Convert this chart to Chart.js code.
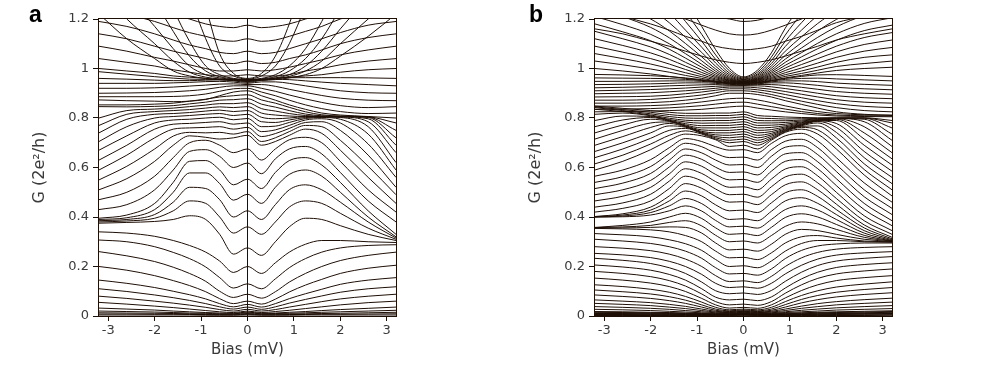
<!DOCTYPE html>
<html>
<head>
<meta charset="utf-8">
<script src="https://cdn.jsdelivr.net/npm/chart.js@4/dist/chart.umd.min.js"></script>
<style>
  html, body { margin: 0; padding: 0; background: #ffffff; }
  body { width: 992px; height: 372px; position: relative; overflow: hidden; }
  .panel { position: absolute; top: 0; width: 496px; height: 372px; }
</style>
</head>
<body>
<div class="panel" style="left:0px"><canvas id="chartA" width="496" height="372"></canvas></div>
<div class="panel" style="left:496px"><canvas id="chartB" width="496" height="372"></canvas></div>
<script>
// ---------- tick values / labels ----------
const X_TICKS = [-3, -2, -1, 0, 1, 2, 3];
const X_TICK_LABELS = ['-3', '-2', '-1', '0', '1', '2', '3'];
const Y_TICKS = [0, 0.2, 0.4, 0.6, 0.8, 1, 1.2];
const Y_TICK_LABELS = ['0', '0.2', '0.4', '0.6', '0.8', '1', '1.2'];
const PANEL_LABELS = ['a', 'b'];
const X_TITLE = 'Bias (mV)';
const Y_TITLE = 'G (2e\u00B2/h)';

// ---------- bias sample positions (mV) ----------
const BIAS_A = [-3.2,-2.6,-2.0,-1.6,-1.25,-0.9,-0.6,-0.3,0,0.3,0.6,0.9,1.25,1.6,2.0,2.6,3.2];
const BIAS_B = [-3.2,-2.6,-2.0,-1.6,-1.25,-0.9,-0.6,-0.3,0,0.3,0.6,0.9,1.25,1.6,2.0,2.6,3.2];

// ---------- panel a : conductance traces (2e^2/h) ----------
const A_LOW = [
  [0.004,0.004,0.004,0.004,0.004,0.003,0.003,0.003,0.004,0.003,0.003,0.003,0.004,0.004,0.004,0.004,0.004],
  [0.008,0.008,0.007,0.007,0.006,0.006,0.005,0.005,0.007,0.005,0.005,0.006,0.006,0.007,0.007,0.008,0.009],
  [0.013,0.012,0.011,0.010,0.009,0.008,0.007,0.007,0.010,0.007,0.007,0.008,0.009,0.010,0.011,0.013,0.015],
  [0.020,0.018,0.016,0.014,0.012,0.011,0.009,0.009,0.013,0.009,0.010,0.011,0.013,0.015,0.017,0.020,0.023],
  [0.032,0.028,0.024,0.020,0.017,0.014,0.012,0.011,0.016,0.011,0.012,0.015,0.018,0.022,0.026,0.031,0.036],
  [0.055,0.048,0.040,0.034,0.028,0.022,0.017,0.014,0.020,0.014,0.018,0.023,0.030,0.037,0.045,0.054,0.060],
  [0.080,0.071,0.060,0.052,0.044,0.035,0.026,0.020,0.027,0.020,0.026,0.036,0.047,0.058,0.069,0.080,0.088],
  [0.110,0.099,0.085,0.074,0.063,0.050,0.037,0.028,0.036,0.027,0.037,0.052,0.067,0.081,0.096,0.110,0.118],
  [0.145,0.132,0.115,0.100,0.086,0.069,0.050,0.037,0.047,0.036,0.050,0.070,0.090,0.108,0.128,0.145,0.155],
  [0.200,0.185,0.163,0.143,0.123,0.098,0.070,0.050,0.060,0.048,0.068,0.097,0.125,0.148,0.172,0.193,0.205],
  [0.260,0.243,0.220,0.197,0.172,0.140,0.100,0.075,0.088,0.072,0.098,0.137,0.172,0.200,0.224,0.245,0.258],
  [0.307,0.300,0.280,0.257,0.232,0.198,0.155,0.113,0.130,0.110,0.150,0.195,0.232,0.258,0.275,0.285,0.288],
  [0.340,0.335,0.322,0.305,0.285,0.258,0.222,0.176,0.200,0.172,0.215,0.258,0.290,0.305,0.305,0.300,0.297]
];
const A_MID = [
  [0.375,0.378,0.382,0.390,0.405,0.390,0.330,0.250,0.275,0.245,0.300,0.360,0.395,0.390,0.365,0.330,0.305],
  [0.380,0.384,0.395,0.425,0.465,0.455,0.400,0.335,0.360,0.330,0.380,0.440,0.465,0.455,0.415,0.355,0.310],
  [0.385,0.390,0.410,0.460,0.520,0.515,0.470,0.400,0.425,0.390,0.450,0.510,0.530,0.510,0.460,0.380,0.315],
  [0.390,0.397,0.430,0.500,0.578,0.578,0.535,0.468,0.492,0.455,0.520,0.572,0.590,0.565,0.500,0.400,0.320],
  [0.395,0.408,0.455,0.540,0.625,0.628,0.590,0.530,0.553,0.515,0.580,0.628,0.640,0.610,0.540,0.425,0.330],
  [0.430,0.450,0.510,0.590,0.665,0.672,0.645,0.600,0.618,0.575,0.635,0.675,0.685,0.655,0.580,0.465,0.380],
  [0.470,0.500,0.565,0.640,0.700,0.710,0.690,0.660,0.675,0.630,0.675,0.712,0.722,0.700,0.625,0.510,0.420],
  [0.510,0.555,0.625,0.690,0.728,0.722,0.715,0.720,0.730,0.690,0.705,0.730,0.755,0.738,0.670,0.560,0.455],
  [0.550,0.605,0.675,0.727,0.742,0.740,0.742,0.735,0.745,0.705,0.720,0.745,0.770,0.765,0.710,0.605,0.490],
  [0.590,0.650,0.720,0.755,0.760,0.762,0.765,0.755,0.762,0.725,0.737,0.758,0.782,0.785,0.750,0.650,0.520],
  [0.630,0.690,0.755,0.775,0.778,0.782,0.785,0.775,0.780,0.745,0.752,0.770,0.792,0.797,0.780,0.695,0.560],
  [0.670,0.728,0.780,0.792,0.795,0.800,0.803,0.793,0.798,0.765,0.767,0.782,0.798,0.802,0.795,0.735,0.590],
  [0.705,0.765,0.800,0.806,0.810,0.815,0.818,0.810,0.815,0.785,0.782,0.792,0.802,0.804,0.802,0.765,0.620],
  [0.740,0.795,0.815,0.818,0.822,0.828,0.832,0.826,0.830,0.803,0.797,0.800,0.805,0.805,0.804,0.785,0.660],
  [0.770,0.815,0.826,0.830,0.834,0.840,0.845,0.842,0.846,0.820,0.812,0.808,0.806,0.806,0.805,0.797,0.690],
  [0.800,0.830,0.836,0.840,0.846,0.852,0.858,0.858,0.862,0.838,0.828,0.818,0.810,0.807,0.806,0.802,0.720],
  [0.846,0.845,0.847,0.850,0.857,0.864,0.872,0.874,0.878,0.856,0.844,0.830,0.816,0.809,0.807,0.804,0.750],
  [0.853,0.853,0.856,0.860,0.868,0.876,0.885,0.890,0.894,0.873,0.860,0.843,0.825,0.813,0.808,0.805,0.780]
];
const A_BAND = [
  [0.873,0.870,0.868,0.866,0.868,0.875,0.890,0.905,0.910,0.890,0.872,0.853,0.835,0.820,0.812,0.806,0.800],
  [0.886,0.886,0.886,0.887,0.890,0.897,0.908,0.918,0.920,0.905,0.890,0.872,0.853,0.838,0.826,0.818,0.820],
  [0.900,0.901,0.903,0.906,0.910,0.916,0.924,0.930,0.930,0.920,0.908,0.893,0.877,0.863,0.850,0.842,0.846],
  [0.920,0.920,0.922,0.925,0.929,0.933,0.937,0.938,0.935,0.935,0.928,0.916,0.903,0.891,0.880,0.872,0.870],
  [0.940,0.940,0.940,0.942,0.944,0.947,0.948,0.945,0.940,0.946,0.946,0.940,0.930,0.920,0.910,0.902,0.900],
  [0.960,0.957,0.953,0.951,0.951,0.953,0.954,0.950,0.944,0.952,0.956,0.955,0.950,0.945,0.940,0.935,0.930],
  [0.987,0.977,0.967,0.961,0.957,0.956,0.956,0.952,0.947,0.955,0.961,0.963,0.963,0.963,0.963,0.962,0.960]
];
const A_UP = [
  [1.000,0.990,0.980,0.970,0.965,0.960,0.955,0.955,0.955,0.955,0.960,0.965,0.970,0.975,0.985,0.995,1.000],
  [1.040,1.025,1.010,0.995,0.985,0.975,0.970,0.970,0.975,0.970,0.970,0.975,0.990,1.000,1.015,1.030,1.040],
  [1.090,1.070,1.045,1.030,1.015,1.000,0.990,0.990,0.995,0.990,0.995,1.005,1.020,1.035,1.055,1.075,1.090],
  [1.140,1.120,1.090,1.070,1.055,1.040,1.025,1.020,1.030,1.020,1.025,1.040,1.055,1.075,1.100,1.125,1.140],
  [1.190,1.170,1.140,1.115,1.095,1.080,1.065,1.060,1.070,1.060,1.065,1.080,1.100,1.120,1.145,1.175,1.190],
  [1.250,1.220,1.190,1.165,1.145,1.130,1.115,1.110,1.120,1.110,1.115,1.130,1.150,1.170,1.200,1.230,1.250],
  [1.300,1.280,1.250,1.220,1.200,1.180,1.170,1.165,1.175,1.165,1.170,1.180,1.200,1.220,1.250,1.280,1.300],
  [1.220,1.120,1.040,0.990,0.970,0.960,0.955,0.952,0.950,0.952,0.955,0.962,0.975,1.000,1.050,1.130,1.220],
  [1.320,1.200,1.100,1.030,0.985,0.965,0.958,0.954,0.951,0.954,0.958,0.968,0.990,1.030,1.100,1.200,1.300],
  [1.450,1.300,1.170,1.080,1.010,0.975,0.962,0.956,0.952,0.956,0.962,0.975,1.010,1.070,1.160,1.290,1.420],
  [1.600,1.430,1.270,1.150,1.050,0.990,0.967,0.958,0.953,0.958,0.967,0.990,1.040,1.120,1.240,1.400,1.560],
  [1.800,1.600,1.400,1.240,1.110,1.010,0.975,0.960,0.955,0.960,0.975,1.010,1.080,1.190,1.340,1.550,1.750],
  [2.200,1.950,1.700,1.500,1.300,1.120,1.010,0.970,0.957,0.970,1.010,1.100,1.250,1.400,1.600,1.900,2.100],
  [2.500,2.200,1.900,1.700,1.480,1.250,1.060,0.980,0.960,0.980,1.050,1.180,1.380,1.580,1.800,2.100,2.400]
];

// ---------- panel b : conductance traces (2e^2/h) ----------
const B_LOW = [
  [0.002,0.002,0.002,0.002,0.002,0.002,0.002,0.002,0.003,0.002,0.002,0.002,0.002,0.002,0.002,0.002,0.003],
  [0.004,0.004,0.004,0.003,0.003,0.003,0.003,0.003,0.004,0.003,0.003,0.003,0.003,0.004,0.004,0.004,0.005],
  [0.006,0.006,0.005,0.005,0.005,0.004,0.004,0.004,0.005,0.004,0.004,0.004,0.005,0.005,0.006,0.007,0.008],
  [0.008,0.008,0.007,0.007,0.006,0.005,0.005,0.005,0.006,0.005,0.005,0.005,0.006,0.007,0.008,0.009,0.010],
  [0.010,0.010,0.009,0.008,0.007,0.006,0.006,0.006,0.007,0.006,0.006,0.006,0.007,0.009,0.010,0.011,0.012],
  [0.012,0.012,0.011,0.010,0.009,0.008,0.007,0.007,0.009,0.007,0.007,0.008,0.009,0.011,0.012,0.013,0.015],
  [0.015,0.014,0.013,0.012,0.010,0.009,0.008,0.008,0.010,0.008,0.008,0.009,0.011,0.013,0.014,0.016,0.018],
  [0.018,0.017,0.015,0.014,0.012,0.010,0.009,0.009,0.011,0.009,0.009,0.011,0.013,0.015,0.017,0.019,0.021],
  [0.027,0.025,0.022,0.019,0.016,0.013,0.011,0.011,0.013,0.011,0.011,0.014,0.017,0.020,0.024,0.027,0.030],
  [0.038,0.035,0.031,0.027,0.022,0.017,0.013,0.012,0.015,0.012,0.013,0.017,0.023,0.028,0.033,0.038,0.042],
  [0.051,0.047,0.042,0.036,0.030,0.022,0.016,0.014,0.017,0.014,0.016,0.022,0.031,0.038,0.045,0.051,0.056],
  [0.065,0.060,0.054,0.047,0.039,0.028,0.019,0.016,0.019,0.016,0.019,0.028,0.040,0.050,0.058,0.066,0.072],
  [0.085,0.079,0.071,0.062,0.051,0.036,0.023,0.018,0.021,0.018,0.023,0.036,0.053,0.066,0.077,0.087,0.094],
  [0.105,0.098,0.089,0.078,0.064,0.045,0.028,0.021,0.024,0.021,0.028,0.046,0.067,0.083,0.096,0.107,0.115],
  [0.126,0.119,0.108,0.096,0.079,0.056,0.035,0.025,0.028,0.025,0.035,0.058,0.083,0.102,0.117,0.129,0.138],
  [0.153,0.145,0.133,0.119,0.099,0.071,0.045,0.032,0.035,0.031,0.045,0.073,0.103,0.126,0.143,0.155,0.163],
  [0.180,0.172,0.159,0.143,0.121,0.089,0.058,0.045,0.048,0.043,0.058,0.092,0.126,0.152,0.170,0.182,0.190],
  [0.206,0.198,0.185,0.168,0.145,0.110,0.076,0.065,0.068,0.062,0.077,0.113,0.150,0.177,0.196,0.208,0.215],
  [0.233,0.225,0.212,0.195,0.172,0.137,0.102,0.090,0.093,0.087,0.103,0.140,0.177,0.204,0.222,0.233,0.240],
  [0.253,0.247,0.236,0.221,0.200,0.168,0.132,0.115,0.118,0.112,0.132,0.170,0.205,0.230,0.246,0.255,0.260],
  [0.280,0.274,0.264,0.250,0.230,0.200,0.163,0.139,0.142,0.135,0.160,0.200,0.235,0.257,0.270,0.277,0.280],
  [0.310,0.303,0.293,0.280,0.262,0.233,0.195,0.170,0.172,0.165,0.190,0.232,0.265,0.283,0.291,0.295,0.295],
  [0.333,0.328,0.320,0.308,0.292,0.265,0.228,0.200,0.203,0.195,0.222,0.262,0.293,0.305,0.305,0.300,0.298],
  [0.354,0.352,0.348,0.340,0.325,0.300,0.262,0.235,0.237,0.228,0.255,0.295,0.320,0.325,0.315,0.303,0.300]
];
const B_MID = [
  [0.356,0.356,0.358,0.360,0.358,0.335,0.295,0.267,0.270,0.262,0.290,0.330,0.350,0.345,0.330,0.310,0.301],
  [0.357,0.360,0.366,0.378,0.385,0.364,0.326,0.300,0.303,0.295,0.325,0.362,0.380,0.372,0.350,0.318,0.302],
  [0.358,0.366,0.380,0.400,0.415,0.394,0.356,0.330,0.333,0.325,0.358,0.398,0.413,0.400,0.370,0.326,0.303],
  [0.400,0.401,0.408,0.425,0.445,0.424,0.386,0.360,0.363,0.355,0.390,0.430,0.445,0.428,0.390,0.335,0.305],
  [0.400,0.404,0.418,0.445,0.475,0.454,0.416,0.390,0.393,0.385,0.423,0.465,0.478,0.455,0.410,0.345,0.308],
  [0.401,0.408,0.428,0.465,0.505,0.485,0.449,0.425,0.428,0.418,0.457,0.498,0.510,0.483,0.430,0.356,0.312],
  [0.402,0.413,0.440,0.485,0.535,0.516,0.483,0.460,0.462,0.450,0.490,0.530,0.542,0.510,0.452,0.368,0.318],
  [0.420,0.435,0.465,0.515,0.565,0.546,0.513,0.490,0.492,0.480,0.522,0.562,0.573,0.538,0.475,0.385,0.330],
  [0.440,0.457,0.492,0.545,0.595,0.576,0.543,0.520,0.522,0.510,0.553,0.594,0.603,0.566,0.500,0.405,0.345],
  [0.465,0.484,0.520,0.574,0.623,0.605,0.572,0.550,0.552,0.540,0.585,0.625,0.632,0.595,0.527,0.430,0.365],
  [0.490,0.510,0.548,0.602,0.650,0.633,0.601,0.580,0.582,0.570,0.615,0.655,0.660,0.623,0.555,0.455,0.385],
  [0.515,0.537,0.576,0.630,0.675,0.659,0.630,0.610,0.612,0.600,0.645,0.682,0.688,0.652,0.584,0.482,0.410],
  [0.540,0.563,0.604,0.656,0.698,0.684,0.657,0.640,0.642,0.630,0.672,0.706,0.714,0.680,0.612,0.510,0.435],
  [0.565,0.590,0.632,0.680,0.717,0.705,0.684,0.670,0.672,0.660,0.697,0.728,0.738,0.707,0.640,0.538,0.460],
  [0.590,0.625,0.672,0.710,0.735,0.728,0.712,0.685,0.690,0.675,0.710,0.742,0.755,0.735,0.675,0.570,0.485],
  [0.615,0.650,0.695,0.730,0.748,0.735,0.715,0.700,0.705,0.690,0.715,0.745,0.762,0.752,0.697,0.592,0.510],
  [0.640,0.675,0.718,0.750,0.758,0.738,0.720,0.710,0.715,0.700,0.720,0.748,0.766,0.768,0.720,0.615,0.535],
  [0.665,0.700,0.740,0.768,0.763,0.740,0.725,0.720,0.725,0.710,0.726,0.750,0.769,0.780,0.742,0.640,0.560],
  [0.690,0.725,0.762,0.778,0.765,0.742,0.732,0.730,0.735,0.720,0.732,0.753,0.771,0.786,0.762,0.665,0.585],
  [0.715,0.750,0.780,0.784,0.767,0.746,0.740,0.740,0.745,0.730,0.738,0.756,0.773,0.788,0.778,0.690,0.610],
  [0.740,0.772,0.795,0.787,0.769,0.752,0.750,0.750,0.755,0.740,0.745,0.760,0.775,0.789,0.790,0.715,0.635],
  [0.765,0.792,0.802,0.789,0.772,0.760,0.760,0.760,0.765,0.750,0.753,0.764,0.778,0.790,0.795,0.740,0.660],
  [0.790,0.808,0.806,0.791,0.777,0.769,0.770,0.770,0.775,0.760,0.762,0.769,0.781,0.791,0.797,0.765,0.685],
  [0.815,0.820,0.809,0.794,0.784,0.779,0.780,0.780,0.785,0.770,0.771,0.775,0.784,0.792,0.798,0.785,0.710],
  [0.835,0.826,0.812,0.799,0.791,0.789,0.790,0.790,0.795,0.780,0.780,0.782,0.788,0.794,0.798,0.795,0.735],
  [0.842,0.830,0.817,0.806,0.800,0.799,0.800,0.800,0.805,0.790,0.789,0.789,0.792,0.796,0.799,0.799,0.760],
  [0.845,0.834,0.823,0.814,0.809,0.809,0.810,0.810,0.815,0.800,0.798,0.796,0.797,0.798,0.800,0.800,0.780],
  [0.848,0.839,0.830,0.823,0.819,0.819,0.820,0.820,0.825,0.810,0.807,0.804,0.802,0.801,0.801,0.801,0.790]
];
const B_BAND = [
  [0.825,0.826,0.828,0.830,0.832,0.835,0.840,0.845,0.848,0.840,0.832,0.825,0.818,0.812,0.808,0.806,0.805],
  [0.835,0.836,0.838,0.841,0.845,0.850,0.856,0.862,0.864,0.856,0.846,0.836,0.826,0.818,0.812,0.809,0.808],
  [0.848,0.848,0.850,0.853,0.858,0.865,0.872,0.878,0.880,0.873,0.862,0.849,0.836,0.826,0.818,0.813,0.812],
  [0.860,0.860,0.862,0.866,0.872,0.880,0.890,0.900,0.900,0.895,0.885,0.870,0.855,0.840,0.825,0.815,0.810],
  [0.872,0.872,0.875,0.880,0.886,0.893,0.902,0.910,0.910,0.905,0.895,0.882,0.868,0.855,0.842,0.830,0.825],
  [0.885,0.886,0.888,0.892,0.898,0.905,0.912,0.918,0.918,0.914,0.906,0.895,0.882,0.870,0.858,0.847,0.842],
  [0.898,0.900,0.902,0.906,0.910,0.915,0.920,0.925,0.925,0.922,0.916,0.907,0.896,0.885,0.874,0.864,0.860],
  [0.910,0.912,0.915,0.918,0.921,0.925,0.928,0.930,0.930,0.930,0.926,0.919,0.910,0.900,0.890,0.882,0.878],
  [0.922,0.924,0.927,0.930,0.932,0.934,0.935,0.933,0.932,0.935,0.935,0.931,0.924,0.916,0.907,0.900,0.896],
  [0.935,0.936,0.938,0.940,0.942,0.942,0.940,0.936,0.934,0.938,0.942,0.942,0.938,0.932,0.924,0.918,0.914],
  [0.948,0.948,0.949,0.950,0.950,0.948,0.944,0.938,0.936,0.940,0.946,0.950,0.950,0.947,0.941,0.936,0.932],
  [0.962,0.961,0.960,0.959,0.956,0.952,0.946,0.940,0.938,0.942,0.949,0.956,0.960,0.961,0.958,0.954,0.950],
  [0.976,0.974,0.971,0.967,0.962,0.955,0.948,0.941,0.939,0.943,0.951,0.960,0.968,0.974,0.975,0.972,0.968]
];
const B_UP = [
  [1.000,0.990,0.978,0.968,0.960,0.952,0.946,0.941,0.940,0.944,0.952,0.962,0.972,0.982,0.992,1.000,1.005],
  [1.030,1.015,0.998,0.985,0.972,0.960,0.950,0.943,0.941,0.946,0.956,0.968,0.980,0.993,1.008,1.020,1.030],
  [1.060,1.040,1.018,1.000,0.983,0.967,0.954,0.945,0.942,0.948,0.960,0.975,0.990,1.006,1.025,1.045,1.055],
  [1.090,1.066,1.040,1.018,0.996,0.975,0.958,0.947,0.943,0.950,0.964,0.983,1.002,1.022,1.045,1.070,1.085],
  [1.120,1.093,1.063,1.037,1.010,0.984,0.963,0.949,0.944,0.952,0.969,0.992,1.016,1.040,1.067,1.097,1.115],
  [1.150,1.120,1.087,1.057,1.025,0.994,0.968,0.951,0.945,0.954,0.974,1.002,1.031,1.059,1.090,1.125,1.145],
  [1.180,1.148,1.112,1.078,1.042,1.005,0.974,0.953,0.946,0.956,0.980,1.013,1.047,1.080,1.114,1.153,1.175],
  [1.210,1.177,1.138,1.100,1.060,1.017,0.981,0.956,0.947,0.958,0.986,1.025,1.064,1.102,1.140,1.182,1.205],
  [1.250,1.210,1.166,1.124,1.079,1.031,0.989,0.959,0.948,0.961,0.993,1.038,1.083,1.126,1.168,1.214,1.240],
  [1.300,1.250,1.200,1.152,1.101,1.047,0.998,0.963,0.950,0.964,1.001,1.053,1.104,1.152,1.198,1.250,1.280],
  [1.360,1.300,1.240,1.185,1.126,1.065,1.009,0.968,0.952,0.968,1.010,1.070,1.128,1.182,1.233,1.290,1.330],
  [1.430,1.360,1.290,1.225,1.155,1.086,1.022,0.974,0.955,0.973,1.020,1.089,1.155,1.215,1.272,1.340,1.390],
  [1.520,1.430,1.350,1.270,1.190,1.110,1.037,0.981,0.958,0.978,1.032,1.110,1.185,1.253,1.318,1.400,1.460],
  [1.620,1.520,1.420,1.325,1.230,1.138,1.055,0.990,0.962,0.985,1.046,1.135,1.220,1.296,1.370,1.470,1.550],
  [1.750,1.620,1.500,1.390,1.280,1.170,1.076,1.000,0.966,0.993,1.063,1.163,1.260,1.345,1.430,1.550,1.660],
  [1.160,1.140,1.110,1.090,1.070,1.050,1.035,1.025,1.020,1.025,1.035,1.050,1.070,1.090,1.115,1.140,1.160],
  [1.240,1.210,1.180,1.155,1.130,1.110,1.090,1.080,1.075,1.080,1.090,1.110,1.130,1.155,1.185,1.210,1.230],
  [1.300,1.280,1.250,1.220,1.200,1.175,1.155,1.140,1.135,1.140,1.155,1.175,1.200,1.225,1.250,1.280,1.300],
  [1.350,1.330,1.300,1.280,1.250,1.230,1.210,1.200,1.190,1.195,1.210,1.230,1.255,1.280,1.310,1.330,1.350]
];

// ---------- styling ----------
const INK = '#1e0f06';
const TEXT_COLOR = '#3a3a3a';
const FONT = 'DejaVu Sans';

function toDatasets(bias, groups) {
  const sets = [];
  groups.forEach(group => {
    group.forEach(row => {
      sets.push({
        data: row.map((g, i) => ({ x: bias[i], y: g })),
        borderColor: INK,
        borderWidth: 1,
        pointRadius: 0,
        showLine: true,
        fill: false,
        cubicInterpolationMode: 'monotone'
      });
    });
  });
  return sets;
}

const framePlugin = {
  id: 'frame',
  afterDatasetsDraw(chart, args, opts) {
    const a = chart.chartArea;
    const ctx = chart.ctx;
    ctx.save();
    ctx.strokeStyle = INK;
    ctx.lineWidth = 1;
    ctx.strokeRect(Math.round(a.left) - 0.5, Math.round(a.top) - 0.5,
                   Math.round(a.right - a.left) + 1, Math.round(a.bottom - a.top) + 1);
    ctx.restore();
  },
  afterDraw(chart, args, opts) {
    const ctx = chart.ctx;
    ctx.save();
    ctx.fillStyle = '#000';
    ctx.font = 'bold 23px "Liberation Sans", Arial, sans-serif';
    ctx.textBaseline = 'alphabetic';
    ctx.fillText(opts.letter, opts.lx, 22);
    ctx.restore();
  }
};

function makeChart(id, bias, groups, letter, lx) {
  return new Chart(document.getElementById(id), {
    type: 'scatter',
    data: { datasets: toDatasets(bias, groups) },
    options: {
      responsive: false,
      animation: false,
      events: [],
      layout: { padding: { top: 19, right: 100, left: 0, bottom: 0 } },
      plugins: {
        legend: { display: false },
        tooltip: { enabled: false },
        frame: { letter: letter, lx: lx }
      },
      scales: {
        x: {
          type: 'linear',
          min: -3.2,
          max: 3.2,
          afterBuildTicks: s => { s.ticks = X_TICKS.map(v => ({ value: v })); },
          afterFit: s => { s.height = 56; },
          border: { display: false },
          grid: {
            drawOnChartArea: true,
            drawTicks: true,
            tickLength: 5,
            tickColor: INK,
            lineWidth: 1,
            color: c => (c.tick && c.tick.value === 0) ? INK : 'rgba(0,0,0,0)'
          },
          ticks: {
            padding: 2,
            color: TEXT_COLOR,
            font: { family: FONT, size: 13 },
            maxRotation: 0,
            autoSkip: false,
            callback: (v) => X_TICK_LABELS[X_TICKS.indexOf(v)]
          },
          title: {
            display: true,
            text: X_TITLE,
            color: TEXT_COLOR,
            font: { family: FONT, size: 15 },
            padding: { top: 0, bottom: 13 }
          }
        },
        y: {
          type: 'linear',
          min: 0,
          max: 1.2,
          afterBuildTicks: s => { s.ticks = Y_TICKS.map(v => ({ value: v })); },
          afterFit: s => { s.width = 99; },
          border: { display: false },
          grid: {
            drawOnChartArea: false,
            drawTicks: true,
            tickLength: 6,
            tickColor: INK,
            color: INK
          },
          ticks: {
            padding: 4,
            color: TEXT_COLOR,
            font: { family: FONT, size: 13 },
            autoSkip: false,
            callback: (v) => Y_TICK_LABELS[Y_TICKS.indexOf(v)]
          },
          title: {
            display: true,
            text: Y_TITLE,
            color: TEXT_COLOR,
            font: { family: FONT, size: 16 },
            padding: { top: 30, bottom: 0 }
          }
        }
      }
    },
    plugins: [framePlugin]
  });
}

makeChart('chartA', BIAS_A, [A_LOW, A_MID, A_BAND, A_UP], PANEL_LABELS[0], 29);
makeChart('chartB', BIAS_B, [B_LOW, B_MID, B_BAND, B_UP], PANEL_LABELS[1], 33);
</script>
</body>
</html>
